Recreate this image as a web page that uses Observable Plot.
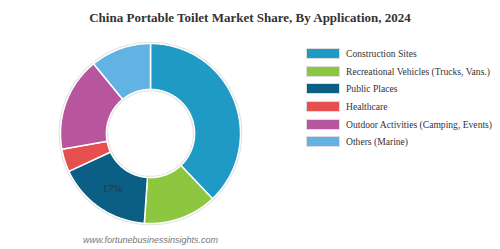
<!DOCTYPE html>
<html>
<head>
<meta charset="utf-8">
<script src="https://cdn.jsdelivr.net/npm/d3@7"></script>
<script src="https://cdn.jsdelivr.net/npm/@observablehq/plot@0.6"></script>
<style>
  html, body { margin: 0; padding: 0; background: #fff; }
  #wrap { position: relative; width: 500px; height: 249px; overflow: hidden; }
  #title { position: absolute; left: 0; top: 10px; width: 500px; text-align: center;
    font-family: "Liberation Serif", "Times New Roman", serif; font-weight: bold; font-size: 13px; color: #333; }
  #chart { position: absolute; left: 51px; top: 34px; }
  #legend { position: absolute; left: 306px; top: 45px; font-family: "Liberation Serif", "Times New Roman", serif; font-size: 9.6px; color: #333; }
  .row { display: flex; align-items: center; height: 17.6px; }
  .sw { width: 32px; height: 9px; border: 1px solid #ddd; margin-right: 6px; box-sizing: content-box; }
  #footer { position: absolute; left: 83px; top: 235px; font-family: "Liberation Sans", Arial, sans-serif; font-style: italic; font-size: 9px; color: #777; }
</style>
</head>
<body>
<div id="wrap">
  <div id="title">China Portable Toilet Market Share, By Application, 2024</div>
  <div id="chart"></div>
  <div id="legend"></div>
  <div id="footer">www.fortunebusinessinsights.com</div>
</div>
<script>
const categories = ["Construction Sites", "Recreational Vehicles (Trucks, Vans.)", "Public Places", "Healthcare", "Outdoor Activities (Camping, Events)", "Others (Marine)"];
const shares = [37.9, 13.2, 17.0, 4.1, 16.9, 10.9];
const colors = ["#1F9AC5", "#8DC63F", "#0B5F85", "#E5504F", "#B8559F", "#62B3E3"];
const labelled = ["Public Places"];
const labelText = ["17%"];

const data = categories.map((c, i) => ({category: c, value: shares[i]}));
const pie = d3.pie().sort(null).value(d => d.value)(data);
const R0 = 0.49, R1 = 1.0;

const pts = [];
pie.forEach(a => {
  const n = Math.max(4, Math.ceil((a.endAngle - a.startAngle) / 0.02));
  const ring = [];
  for (let k = 0; k <= n; k++) {
    const t = a.startAngle + (a.endAngle - a.startAngle) * k / n;
    ring.push([R1 * Math.sin(t), R1 * Math.cos(t)]);
  }
  for (let k = n; k >= 0; k--) {
    const t = a.startAngle + (a.endAngle - a.startAngle) * k / n;
    ring.push([R0 * Math.sin(t), R0 * Math.cos(t)]);
  }
  ring.push(ring[0]);
  ring.forEach(p => pts.push({category: a.data.category, x: p[0], y: p[1]}));
});

const circle = (r) => d3.range(0, 361, 2).map(d => ({x: r * Math.sin(d * Math.PI / 180), y: r * Math.cos(d * Math.PI / 180)}));

const labels = pie.filter(a => labelled.includes(a.data.category)).map(a => {
  const m = (a.startAngle + a.endAngle) / 2, r = (R0 + R1) / 2;
  return {x: r * Math.sin(m), y: r * Math.cos(m), text: labelText[labelled.indexOf(a.data.category)]};
});

const chart = Plot.plot({
  width: 198, height: 198,
  margin: 0,
  x: {domain: [-1.1, 1.1], axis: null},
  y: {domain: [-1.1, 1.1], axis: null},
  color: {domain: categories, range: colors},
  marks: [
    Plot.line(circle(1.012), {x: "x", y: "y", stroke: "#e2e2e2", strokeWidth: 1.5}),
    Plot.line(circle(R0 - 0.012), {x: "x", y: "y", stroke: "#e2e2e2", strokeWidth: 1.5}),
    Plot.line(pts, {x: "x", y: "y", z: "category", fill: "category", stroke: "#fff", strokeWidth: 1.5, curve: "linear-closed"}),
    Plot.text(labels, {x: "x", y: "y", text: "text", fill: "#333", fontSize: 11, fontFamily: "Liberation Serif, Times New Roman, serif"})
  ]
});
document.getElementById("chart").appendChild(chart);

const legend = document.getElementById("legend");
categories.forEach((c, i) => {
  const row = document.createElement("div");
  row.className = "row";
  const sw = document.createElement("div");
  sw.className = "sw";
  sw.style.background = colors[i];
  const tx = document.createElement("span");
  tx.textContent = c;
  row.appendChild(sw); row.appendChild(tx);
  legend.appendChild(row);
});
</script>
</body>
</html>
